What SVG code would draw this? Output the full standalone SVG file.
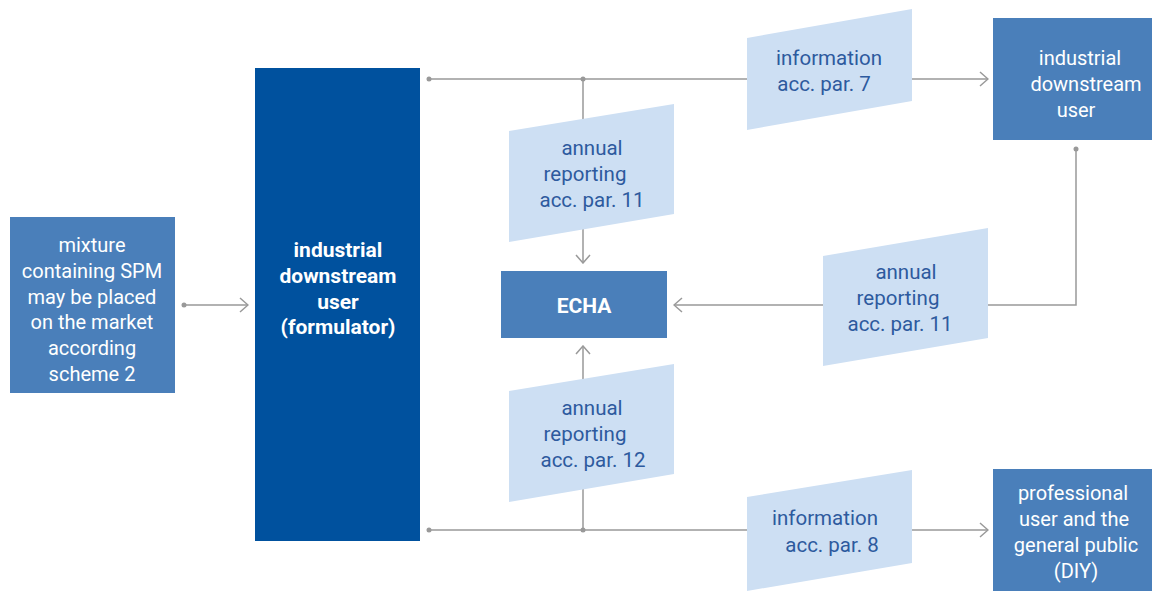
<svg xmlns="http://www.w3.org/2000/svg" width="1152" height="592" viewBox="0 0 1152 592">
<style>
.box{fill:#4a7fba}
.main{fill:#00519e}
.para{fill:#cddff3}
.ln{fill:none;stroke:#999999;stroke-width:1.5}
.dot{fill:#999999}
.wt{font-family:Roboto,"Liberation Sans",sans-serif;font-size:20px;fill:#ffffff;text-anchor:middle}
.bt{font-family:Roboto,"Liberation Sans",sans-serif;font-size:21px;font-weight:bold;fill:#ffffff;text-anchor:middle}
.pt{font-family:Roboto,"Liberation Sans",sans-serif;font-size:20.5px;fill:#2d5a9e;text-anchor:middle}
</style>
<defs>
<marker id="arr" viewBox="0 0 10 16" refX="9" refY="8" markerWidth="10" markerHeight="16" markerUnits="userSpaceOnUse" orient="auto">
<path d="M1,1 L9,8 L1,15" fill="none" stroke="#999999" stroke-width="1.5"/>
</marker>
</defs>
<rect width="1152" height="592" fill="#ffffff"/>
<g id="connectors">
<line class="ln" x1="184" y1="305" x2="248" y2="305" marker-end="url(#arr)"/>
<circle class="dot" cx="184" cy="305" r="2.5"/>
<line class="ln" x1="429" y1="79" x2="988" y2="79" marker-end="url(#arr)"/>
<circle class="dot" cx="429" cy="79" r="2.5"/>
<circle class="dot" cx="583" cy="79" r="2.5"/>
<line class="ln" x1="583" y1="79" x2="583" y2="263" marker-end="url(#arr)"/>
<line class="ln" x1="429" y1="530" x2="988" y2="530" marker-end="url(#arr)"/>
<circle class="dot" cx="429" cy="530" r="2.5"/>
<circle class="dot" cx="583" cy="530" r="2.5"/>
<line class="ln" x1="583" y1="530" x2="583" y2="346" marker-end="url(#arr)"/>
<polyline class="ln" points="1076,149 1076,305 674,305" marker-end="url(#arr)"/>
<circle class="dot" cx="1076" cy="149" r="2.5"/>
</g>
<g id="mixture">
<rect class="box" x="10" y="217" width="165" height="176"/>
<text class="wt" x="92" y="252">mixture</text>
<text class="wt" x="92" y="278">containing SPM</text>
<text class="wt" x="92" y="304">may be placed</text>
<text class="wt" x="92" y="329">on the market</text>
<text class="wt" x="92" y="355">according</text>
<text class="wt" x="92" y="381">scheme 2</text>
</g>
<g id="formulator">
<rect class="main" x="255" y="68" width="165" height="473"/>
<text class="bt" x="338" y="257">industrial</text>
<text class="bt" x="338" y="283">downstream</text>
<text class="bt" x="338" y="309">user</text>
<text class="bt" x="338" y="334">(formulator)</text>
</g>
<g id="echa">
<rect class="box" x="501" y="271" width="166" height="67"/>
<text class="bt" x="584" y="313">ECHA</text>
</g>
<g id="industrial-dsu">
<rect class="box" x="993" y="18" width="168" height="122"/>
<text class="wt" x="1080" y="65">industrial</text>
<text class="wt" x="1086" y="91">downstream</text>
<text class="wt" x="1076" y="117">user</text>
</g>
<g id="professional">
<rect class="box" x="993" y="469" width="168" height="122"/>
<text class="wt" x="1073" y="500">professional</text>
<text class="wt" x="1074" y="526">user and the</text>
<text class="wt" x="1076" y="552">general public</text>
<text class="wt" x="1076" y="578">(DIY)</text>
</g>
<g id="info7">
<polygon class="para" points="747,38 912,9 912,101 747,130"/>
<text class="pt" x="829" y="65">information</text>
<text class="pt" x="824" y="91">acc. par. 7</text>
</g>
<g id="annual11-top">
<polygon class="para" points="509,131 674,104 674,214 509,242"/>
<text class="pt" x="592" y="155">annual</text>
<text class="pt" x="585" y="181">reporting</text>
<text class="pt" x="592" y="207">acc. par. 11</text>
</g>
<g id="annual11-right">
<polygon class="para" points="823,256 988,228 988,338 823,366"/>
<text class="pt" x="906" y="279">annual</text>
<text class="pt" x="898" y="305">reporting</text>
<text class="pt" x="900" y="331">acc. par. 11</text>
</g>
<g id="annual12">
<polygon class="para" points="509,391 674,364 674,474 509,502"/>
<text class="pt" x="592" y="415">annual</text>
<text class="pt" x="585" y="441">reporting</text>
<text class="pt" x="593" y="467">acc. par. 12</text>
</g>
<g id="info8">
<polygon class="para" points="747,497 912,470 912,563 747,591"/>
<text class="pt" x="825" y="525">information</text>
<text class="pt" x="832" y="552">acc. par. 8</text>
</g>
</svg>
